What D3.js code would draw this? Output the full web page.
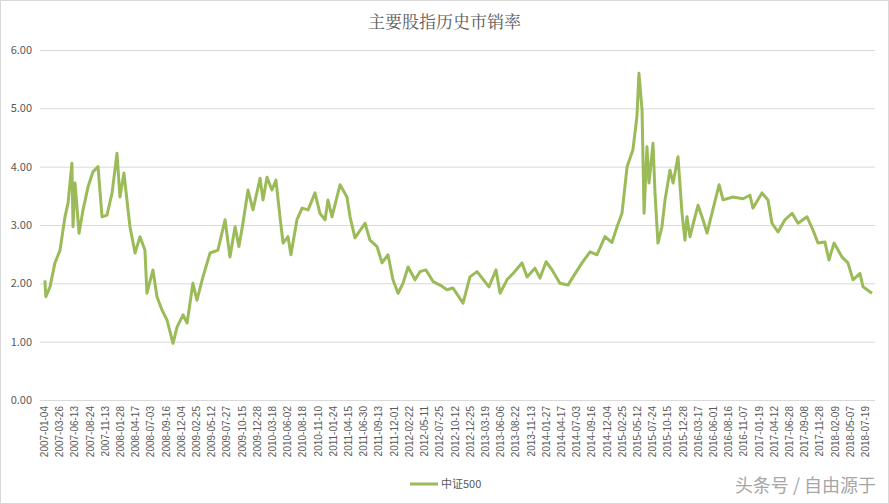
<!DOCTYPE html>
<html><head><meta charset="utf-8">
<script src="https://cdn.jsdelivr.net/npm/d3@7"></script>
<style>body{margin:0;background:#fff}svg{display:block}</style>
</head><body><div id="chart"></div>
<script>
// x 轴刻度标签
const tickLabels = ["2007-01-04","2007-03-26","2007-06-13","2007-08-24","2007-11-13","2008-01-28","2008-04-17","2008-07-03","2008-09-16","2008-12-04","2009-02-25","2009-05-12","2009-07-27","2009-10-15","2009-12-28","2010-03-18","2010-06-02","2010-08-18","2010-11-10","2011-01-24","2011-04-15","2011-06-30","2011-09-13","2011-12-01","2012-02-22","2012-05-11","2012-07-25","2012-10-12","2012-12-25","2013-03-19","2013-06-06","2013-08-22","2013-11-13","2014-01-27","2014-04-17","2014-07-03","2014-09-16","2014-12-04","2015-02-25","2015-05-12","2015-07-24","2015-10-15","2015-12-28","2016-03-17","2016-06-01","2016-08-16","2016-11-07","2017-01-19","2017-04-12","2017-06-28","2017-09-08","2017-11-28","2018-02-09","2018-05-07","2018-07-19"];
// 时间位置 (0 = 2007-01-04, 45.37 = 序列末尾)
const pos = [0.05,0.1,0.33,0.6,0.88,1.15,1.32,1.53,1.59,1.7,1.92,2.14,2.41,2.68,2.96,3.18,3.45,3.73,4.0,4.16,4.38,4.71,4.99,5.26,5.53,5.64,5.97,6.19,6.47,6.74,7.07,7.29,7.62,7.84,8.16,8.38,8.71,9.1,9.53,9.92,10.19,10.47,10.68,10.9,11.18,11.45,11.84,12.0,12.22,12.49,12.71,12.93,13.1,13.37,13.53,13.86,14.14,14.47,14.85,15.12,15.4,15.56,15.78,16.22,16.6,16.77,17.04,17.59,17.86,18.25,18.52,18.85,19.12,19.4,19.67,19.95,20.33,20.6,20.93,21.32,21.7,22.08,22.41,22.96,23.34,23.73,24.38,24.77,24.99,25.37,25.7,26.19,26.47,26.9,27.18,27.51,27.84,28.27,28.71,28.99,29.48,29.92,30.3,30.74,31.12,31.4,31.67,31.95,32.27,32.49,32.6,32.77,32.88,33.04,33.15,33.37,33.48,33.64,33.86,34.03,34.3,34.47,34.74,34.96,35.12,35.23,35.4,35.67,35.84,36.11,36.33,36.6,36.88,36.99,37.21,37.75,38.3,38.68,38.85,39.34,39.67,39.89,40.22,40.6,40.99,41.32,41.81,42.14,42.41,42.79,43.01,43.29,43.73,44.05,44.33,44.71,44.88,45.37];
// 中证500 市销率
const csi500 = [2.05,1.77,1.94,2.35,2.57,3.14,3.38,4.06,2.97,3.72,2.86,3.26,3.65,3.91,4.0,3.14,3.17,3.55,4.23,3.48,3.89,2.97,2.52,2.8,2.57,1.83,2.23,1.77,1.54,1.37,0.97,1.25,1.46,1.32,2.0,1.71,2.11,2.52,2.57,3.09,2.45,2.97,2.63,3.03,3.6,3.26,3.8,3.43,3.82,3.6,3.77,3.14,2.69,2.8,2.49,3.09,3.29,3.26,3.55,3.2,3.09,3.43,3.14,3.69,3.48,3.14,2.78,3.03,2.74,2.63,2.35,2.49,2.06,1.83,2.0,2.28,2.06,2.2,2.23,2.03,1.97,1.89,1.92,1.66,2.11,2.2,1.94,2.23,1.83,2.06,2.17,2.35,2.11,2.26,2.09,2.37,2.23,2.0,1.97,2.11,2.35,2.54,2.49,2.8,2.7,2.97,3.2,4.0,4.29,4.86,5.6,4.97,3.2,4.34,3.72,4.4,3.55,2.69,2.97,3.43,3.94,3.72,4.17,3.2,2.74,3.14,2.8,3.14,3.34,3.09,2.86,3.2,3.55,3.69,3.43,3.48,3.45,3.51,3.29,3.55,3.43,3.03,2.88,3.09,3.2,3.03,3.14,2.91,2.69,2.71,2.4,2.69,2.45,2.35,2.06,2.17,1.94,1.83];
const yTicks = [0,1,2,3,4,5,6];

const W = 889, H = 504;
const svg = d3.select("#chart").append("svg").attr("width", W).attr("height", H);
const font = "'Noto Sans CJK SC', 'Microsoft YaHei', sans-serif";

svg.append("rect").attr("x", 0.5).attr("y", 0.5).attr("width", W - 1).attr("height", H - 1)
    .attr("fill", "#fff").attr("stroke", "#d9d9d9");

const x = d3.scaleLinear().domain([0, 45.37]).range([44, 872]);
const xLab = d3.scaleLinear().domain([0, tickLabels.length - 1]).range([44, 865]);
const y = d3.scaleLinear().domain([0, 6]).range([400, 50]);

svg.append("text").attr("x", W / 2).attr("y", 28).attr("text-anchor", "middle")
    .style("font-family", "'Noto Serif CJK SC', 'Noto Sans CJK SC', serif").style("font-size", "17px")
    .attr("fill", "#595959").text("主要股指历史市销率");

// 网格线 + y 轴
const yAxis = svg.append("g").attr("transform", "translate(40,0)")
    .call(d3.axisLeft(y).tickValues(yTicks).tickSize(-835).tickFormat(d3.format(".2f")));
yAxis.select(".domain").remove();
yAxis.selectAll("line").attr("stroke", "#d9d9d9");
yAxis.selectAll("text").attr("x", -8).attr("fill", "#595959").style("font-size", "11px").style("font-family", font);

// x 轴标签
const xAxis = svg.append("g").attr("transform", "translate(0,400)")
    .call(d3.axisBottom(xLab).tickValues(d3.range(tickLabels.length)).tickSize(0).tickFormat(i => tickLabels[i]));
xAxis.select(".domain").attr("stroke", "#d9d9d9");
xAxis.selectAll("text").attr("transform", "rotate(-90)").attr("text-anchor", "end")
    .attr("x", -6).attr("y", 0).attr("dy", "0.35em")
    .attr("fill", "#595959").style("font-size", "10px").style("font-family", "'Liberation Sans', Arial, sans-serif");

const line = d3.line().x((d, i) => x(pos[i])).y(d => y(d));
svg.append("path").datum(csi500).attr("d", line).attr("fill", "none")
    .attr("stroke", "#9bbb59").attr("stroke-width", 3).attr("stroke-linejoin", "round");

// 图例
svg.append("line").attr("x1", 410).attr("x2", 438).attr("y1", 484).attr("y2", 484)
    .attr("stroke", "#9bbb59").attr("stroke-width", 3);
svg.append("text").attr("x", 441).attr("y", 488).style("font-size", "11px").style("font-family", font)
    .attr("fill", "#595959").text("中证500");

svg.append("text").attr("x", 876).attr("y", 492).attr("text-anchor", "end")
    .style("font-size", "18px").style("font-family", font).attr("fill", "#a6a6a6").text("头条号 / 自由源于");
</script></body></html>
